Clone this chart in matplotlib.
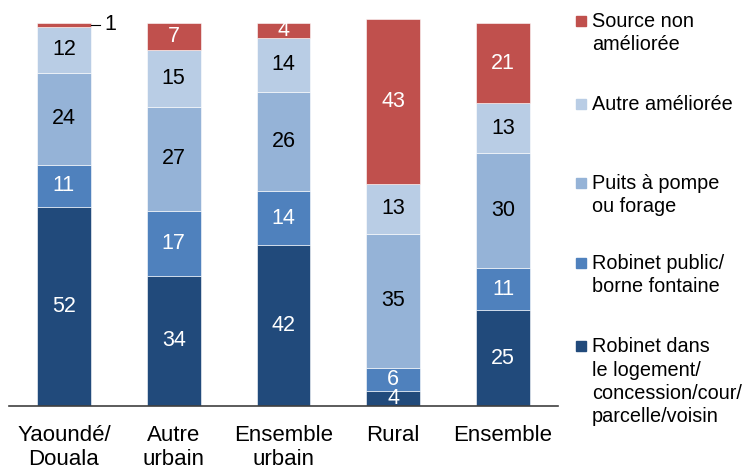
import numpy as np
import matplotlib
matplotlib.use("Agg")
import matplotlib.pyplot as plt
from matplotlib.patches import Rectangle

plt.rcParams['font.family'] = ['Liberation Sans', 'DejaVu Sans']

# data
categories = ["Yaoundé/\nDouala", "Autre\nurbain", "Ensemble\nurbain", "Rural", "Ensemble"]
robinet_logement = [52, 34, 42, 4, 25]
robinet_public = [11, 17, 14, 6, 11]
puits_forage = [24, 27, 26, 35, 30]
autre_amelioree = [12, 15, 14, 13, 13]
source_non_amelioree = [1, 7, 4, 43, 21]

series_names = [
    "Robinet dans\nle logement/\nconcession/cour/\nparcelle/voisin",
    "Robinet public/\nborne fontaine",
    "Puits à pompe\nou forage",
    "Autre améliorée",
    "Source non\naméliorée",
]
series = [robinet_logement, robinet_public, puits_forage, autre_amelioree, source_non_amelioree]
colors = ["#214A7B", "#4F81BD", "#95B3D7", "#B9CDE5", "#C0504D"]
label_colors = ["white", "white", "black", "black", "white"]

fig = plt.figure(figsize=(7.48, 4.71), dpi=100)
ax = fig.add_axes([9 / 748, 65 / 471, 549 / 748, 387 / 471])

x = np.arange(len(categories))
bottom = np.zeros(len(categories))
for vals, col, lc in zip(series, colors, label_colors):
    vals = np.array(vals, dtype=float)
    ax.bar(x, vals, bottom=bottom, width=0.49, color=col, edgecolor="white", linewidth=0.4)
    for xi, v, b in zip(x, vals, bottom):
        if v >= 3:
            ax.text(xi, b + v / 2, f"{int(v)}", ha="center", va="center",
                    color=lc, fontsize=15.5)
        else:
            # small slice: label outside with leader line
            ax.plot([xi + 0.25, xi + 0.33], [b + v / 2, b + v / 2], color="black", lw=0.8,
                    clip_on=False)
            ax.text(xi + 0.37, b + v / 2, f"{int(v)}", ha="left", va="center",
                    color="black", fontsize=15.5)
    bottom += vals

ax.set_xlim(-0.5, 4.5)
ax.set_ylim(0, 101)
ax.set_xticks(x)
ax.set_xticklabels(categories, fontsize=16, linespacing=1.15)
ax.tick_params(axis="x", length=0, pad=14)
ax.set_yticks([])
for s in ["top", "right", "left"]:
    ax.spines[s].set_visible(False)
ax.spines["bottom"].set_color("#404040")
ax.spines["bottom"].set_linewidth(1.2)

# legend drawn by hand (uneven spacing in the original)
leg_y = [21, 104, 183, 263, 346]
for name, col, ypx in zip(series_names[::-1], colors[::-1], leg_y):
    yf = 1 - ypx / 471
    fig.patches.append(Rectangle((576 / 748, yf - 5 / 471), 10 / 748, 10 / 471,
                                 transform=fig.transFigure, color=col))
    fig.text(592 / 748, yf + 9 / 471, name, ha="left", va="top", fontsize=14.3,
             linespacing=1.3)

fig.savefig("out.png", dpi=100)
